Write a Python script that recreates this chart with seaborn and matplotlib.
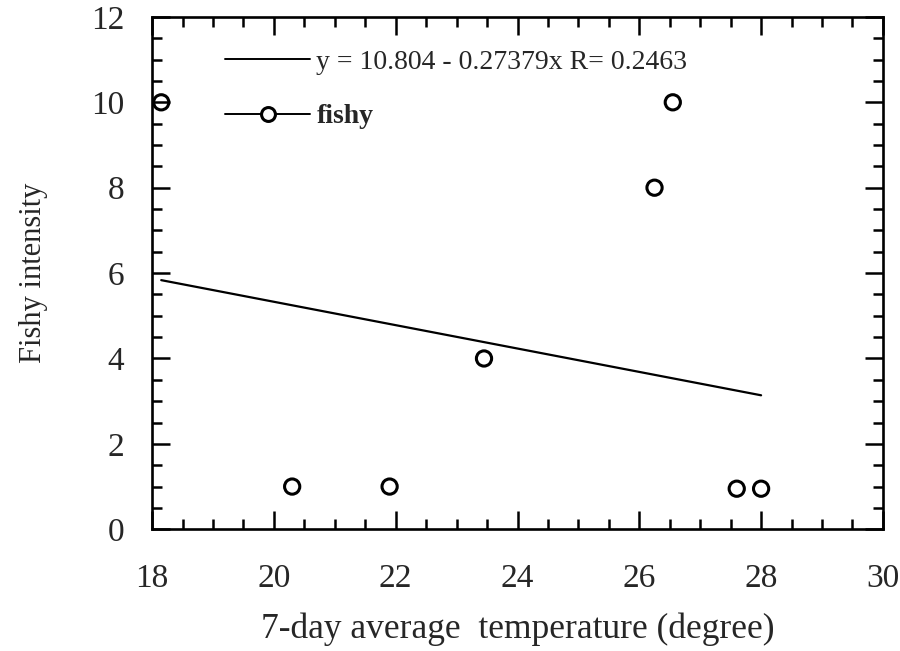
import matplotlib
matplotlib.use("Agg")
import matplotlib.pyplot as plt
from matplotlib.lines import Line2D
from matplotlib.ticker import MultipleLocator
import numpy as np
import pandas as pd
import seaborn as sns

# Observations: 7-day average temperature vs. fishy odour intensity
temperature = [18.15, 20.3, 21.9, 23.45, 26.25, 26.55, 27.6, 28.0]
fishy = [10, 1, 1, 4, 8, 10, 0.95, 0.95]

# Linear fit reported in the legend
intercept = 10.804
slope = -0.27379
r_value = 0.2463
fit_x = [18.15, 28.0]

sns.set_theme(style="white")
plt.rcParams["font.family"] = ["Liberation Serif", "DejaVu Serif"]

fig = plt.figure(figsize=(9, 6.51), dpi=100)
ax = fig.add_axes([0.169, 0.187, 0.812, 0.787])

df = pd.DataFrame({"temperature": temperature, "fishy": fishy})
fit_df = pd.DataFrame({"x": fit_x, "y": [intercept + slope * v for v in fit_x]})

sns.lineplot(data=fit_df, x="x", y="y", ax=ax, color="black", linewidth=1.6,
             legend=False)
sns.scatterplot(data=df, x="temperature", y="fishy", ax=ax, marker="o",
                s=120, facecolor="none", edgecolor="black", linewidth=2.2,
                legend=False, clip_on=False, zorder=3)

ax.set_xlim(18, 30)
ax.set_ylim(0, 12)
ax.xaxis.set_major_locator(MultipleLocator(2))
ax.xaxis.set_minor_locator(MultipleLocator(0.5))
ax.yaxis.set_major_locator(MultipleLocator(2))
ax.yaxis.set_minor_locator(MultipleLocator(0.5))
ax.tick_params(which="both", direction="in", top=True, right=True,
               bottom=True, left=True, color="black", width=1.8)
ax.tick_params(which="major", length=13, labelsize=24)
ax.tick_params(which="minor", length=7)
ax.tick_params(axis="x", which="major", pad=25)
ax.tick_params(axis="y", which="major", pad=20)
for sp in ax.spines.values():
    sp.set_color("black")
    sp.set_linewidth(1.9)

ax.set_xlabel("7-day average  temperature (degree)", fontsize=25.5, labelpad=13)
ax.set_ylabel("Fishy intensity", fontsize=22, labelpad=31)

handles = [
    Line2D([], [], color="black", linewidth=1.4),
    Line2D([], [], color="black", linewidth=1.4, marker="o", markersize=10,
           markerfacecolor="white", markeredgewidth=2.2),
]
labels = [f"y = {intercept} - {slope * -1}x R= {r_value}", "fishy"]
leg = ax.legend(handles, labels, loc="upper left", bbox_to_anchor=(0.100, 0.937),
                frameon=False, fontsize=20, handlelength=3.05, handletextpad=0.23,
                labelspacing=1.05, borderpad=0, borderaxespad=0)
leg.get_texts()[1].set_fontweight("bold")

fig.savefig("out.png", dpi=100)
